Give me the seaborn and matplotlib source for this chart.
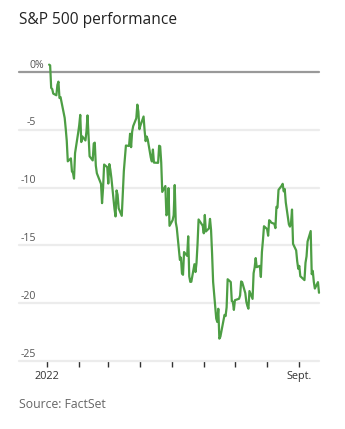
import numpy as np
import pandas as pd
import matplotlib
matplotlib.use("Agg")
import matplotlib.pyplot as plt
import seaborn as sns

# ---- data: S&P 500 closing levels, 2022 trading days (Jan 3 .. Sep 20) ----
base_level = 4766.18  # Dec 31, 2021 close (0% reference)
closes_jan = [4796.56, 4793.54, 4700.58, 4696.05, 4677.03, 4670.29, 4713.07, 4726.35, 4659.03, 4662.85,
              4577.11, 4532.76, 4482.73, 4397.94, 4410.13, 4356.45, 4349.93, 4326.51, 4431.85, 4515.55]
closes_feb = [4546.54, 4589.38, 4477.44, 4500.53, 4483.87, 4521.54, 4587.18, 4504.08, 4418.64, 4401.67,
              4471.07, 4475.01, 4380.26, 4348.87, 4304.76, 4225.50, 4288.70, 4384.65, 4373.94]
closes_mar = [4306.26, 4386.54, 4363.49, 4328.87, 4201.09, 4170.70, 4277.88, 4259.52, 4204.31, 4173.11,
              4262.45, 4357.86, 4411.67, 4463.12, 4461.18, 4511.61, 4456.24, 4520.16, 4543.06, 4575.52,
              4631.60, 4602.45, 4530.41]
closes_apr = [4545.86, 4582.64, 4525.12, 4481.15, 4500.21, 4488.28, 4412.53, 4397.45, 4446.59, 4392.59,
              4391.69, 4462.21, 4459.45, 4393.66, 4271.78, 4296.12, 4175.20, 4183.96, 4287.50, 4131.93]
closes_may = [4155.38, 4175.48, 4300.17, 4146.87, 4123.34, 3991.24, 4001.05, 3935.18, 3930.08, 4023.89,
              4008.01, 4088.85, 3923.68, 3900.79, 3901.36, 3973.75, 3941.48, 3978.73, 4057.84, 4158.24,
              4132.15]
closes_jun = [4101.23, 4176.82, 4108.54, 4121.43, 4160.68, 4115.77, 4017.82, 3900.86, 3749.63, 3735.48,
              3789.99, 3666.77, 3674.84, 3764.79, 3759.89, 3795.73, 3911.74, 3900.11, 3821.55, 3818.83,
              3785.38]
closes_jul = [3825.33, 3831.39, 3845.08, 3902.62, 3899.38, 3854.43, 3818.80, 3801.78, 3790.38, 3863.16,
              3830.85, 3936.69, 3959.90, 3998.95, 3961.63, 3966.84, 3921.05, 4023.61, 4072.43, 4130.29]
closes_aug = [4118.63, 4091.19, 4155.17, 4151.94, 4145.19, 4140.06, 4122.47, 4210.24, 4207.27, 4280.15,
              4297.14, 4305.20, 4274.04, 4283.74, 4228.48, 4137.99, 4128.73, 4140.77, 4199.12, 4057.66,
              4030.61, 3986.16, 3955.00]
closes_sep = [3966.85, 3924.26, 3908.19, 3979.87, 4006.18, 4067.36, 4110.41, 3932.69, 3946.01, 3901.35,
              3873.33, 3899.89, 3855.93]

holidays = ["2022-01-17", "2022-02-21", "2022-04-15", "2022-05-30", "2022-06-20", "2022-07-04", "2022-09-05"]
y_ticks = [0, -5, -10, -15, -20, -25]
y_labels = ["0%", "-5", "-10", "-15", "-20", "-25"]
x_tick_labels = {1: "2022", 9: "Sept."}

closes = np.array(closes_jan + closes_feb + closes_mar + closes_apr + closes_may +
                  closes_jun + closes_jul + closes_aug + closes_sep)
dates = pd.bdate_range("2022-01-03", "2022-09-20")
dates = dates[~dates.isin(pd.to_datetime(holidays))]
assert len(dates) == len(closes)
df = pd.DataFrame({"date": dates, "pct": (closes / base_level - 1) * 100})

# ---- figure ----
sns.set_style("white")
plt.rcParams["font.family"] = ["Open Sans", "DejaVu Sans"]

W, H = 345, 429
fig = plt.figure(figsize=(W / 100, H / 100), dpi=100)
px_l, px_r, px_t, px_b = 19, 319, 60, 361
ax = fig.add_axes([px_l / W, 1 - px_b / H, (px_r - px_l) / W, (px_b - px_t) / H])

ymin, ymax = -25, 12 / 11.55
ax.set_ylim(ymin, ymax)
ax.set_xlim(pd.Timestamp("2021-12-05"), pd.Timestamp("2022-09-20"))

for v in y_ticks:
    if v == 0:
        ax.axhline(v, color="#999999", lw=1.6, zorder=1)
    else:
        ax.axhline(v, color="#ececec", lw=1.6, zorder=1)

sns.lineplot(data=df, x="date", y="pct", ax=ax, color="#4d9e44", lw=1.6, zorder=3)
for l in ax.lines:
    l.set_clip_on(False)
    l.set_solid_joinstyle("round")

# y labels above gridlines
trans = matplotlib.transforms.blended_transform_factory(ax.transAxes, ax.transData)
for v, lab in zip(y_ticks, y_labels):
    if v == 0:
        ax.text((30 - px_l) / (px_r - px_l), v + 0.12, lab, transform=trans,
                ha="left", va="bottom", fontsize=7.6, color="#555555")
    else:
        ax.text((36 - px_l) / (px_r - px_l), v + 0.12, lab, transform=trans,
                ha="right", va="bottom", fontsize=7.6, color="#555555")

ax.set_yticks([])
month_ticks = pd.date_range("2022-01-01", "2022-09-01", freq="MS")
ax.set_xticks(month_ticks)
ax.set_xticklabels([x_tick_labels.get(d.month, "") for d in month_ticks])
ax.tick_params(axis="x", direction="out", length=4, width=1, color="#333333",
               labelsize=7.8, labelcolor="#333333", pad=3, bottom=True)
ax.set_xlabel("")
ax.set_ylabel("")
for s in ax.spines.values():
    s.set_visible(False)

fig.text(19 / W, 1 - 20 / H, "S&P 500 performance", ha="left", va="center",
         fontsize=11.2, color="#222222")
fig.text(19 / W, 1 - 405 / H, "Source: FactSet", ha="left", va="center",
         fontsize=8.8, color="#666666")

fig.savefig("out.png", dpi=100)
